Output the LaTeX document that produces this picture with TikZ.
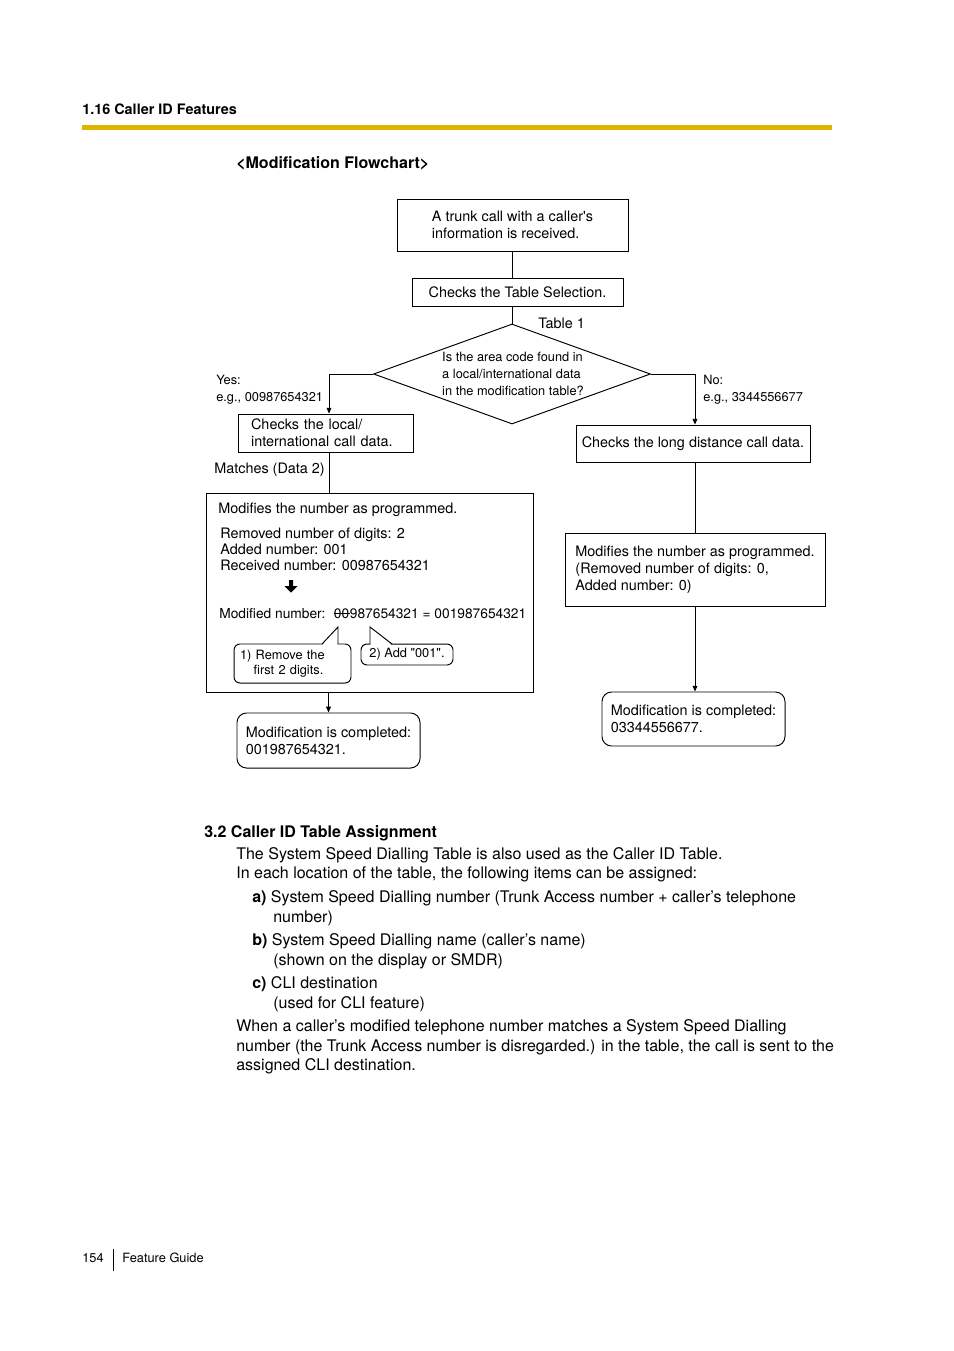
\documentclass[tikz,border=0pt]{standalone}
\usepackage{fontspec}
\setmainfont{TeX Gyre Heros}
\usetikzlibrary{shapes.geometric, arrows.meta, positioning, fit, calc}
\definecolor{rulegold}{RGB}{224,181,0}
\tikzset{
    flowbox/.style={rectangle, draw, line width=0.6pt, inner sep=0pt, align=left, font=\fontsize{9}{10.6}\selectfont},
    endbox/.style={flowbox, rounded corners=6pt},
    notebox/.style={rectangle, draw, line width=0.6pt, rounded corners=3.75pt, fill=white, inner xsep=3.75pt, inner ysep=0pt, font=\fontsize{8}{9.4}\selectfont},
    flowtext/.style={anchor=base west, inner sep=0pt, font=\fontsize{9}{10.6}\selectfont},
    smalltext/.style={anchor=base west, inner sep=0pt, font=\fontsize{8}{10.6}\selectfont},
    bodytext/.style={anchor=base west, inner sep=0pt, font=\fontsize{10}{12}\selectfont},
    headtext/.style={anchor=base west, inner sep=0pt, font=\fontsize{9}{11}\selectfont\bfseries},
}

\begin{document}
\begin{tikzpicture}[
    x=0.625pt, y=-0.625pt,
    arrow/.style={-{Triangle[length=3.6pt, width=3pt]}, line width=0.6pt},
    arrowline/.style={line width=0.6pt}
]
\useasboundingbox (0,0) rectangle (954,1351);

% page header
\node[headtext] (chapter) at (82,114) {1.16 Caller ID Features};
\fill[rulegold] (82,125) rectangle (832,130);
\node[headtext, font=\fontsize{10}{12}\selectfont\bfseries] (charttitle) at (236,168) {\textless Modification Flowchart\textgreater};

% flowchart
\node[flowbox, minimum width=144.4pt, minimum height=32.5pt] (trunk) at (512.5,225) {A trunk call with a caller\textquotesingle s\\information is received.};
\node[flowbox, minimum width=131.9pt, minimum height=17.5pt] (tablesel) at (517.5,292) {Checks the Table Selection.};
\node[diamond, draw, line width=0.6pt, minimum width=173.1pt, minimum height=62.5pt, inner sep=0pt] (decide) at (512,374) {};
\node[inner sep=0pt, align=left, font=\fontsize{8}{10.6}\selectfont] (question) at (513,374) {Is the area code found in\\a local/international data\\in the modification table?};
\node[flowtext] (tablelbl) at (538,328) {Table 1};

\node[smalltext] (yeslbl) at (216,384) {Yes:};
\node[smalltext] (yesex) at (216,401) {e.g., 00987654321};
\node[smalltext] (nolbl) at (703,384) {No:};
\node[smalltext] (noex) at (703,401) {e.g., 3344556677};

\node[flowbox, minimum width=109.4pt, minimum height=23.75pt, text width=93pt] (localchk) at (325.5,433) {Checks the local/\\international call data.};
\node[flowtext] (matchlbl) at (214,473) {Matches (Data 2)};

\node[flowbox, minimum width=204.4pt, minimum height=124.4pt] (modleft) at (369.5,592.5) {};
\node[flowtext] (modhead) at (218,513) {Modifies the number as programmed.};
\node[flowtext] (rmdigits) at (220,538) {Removed number of digits: 2};
\node[flowtext] (addnum) at (220,554) {Added number: 001};
\node[flowtext] (recvnum) at (220,570) {Received number: 00987654321};
\fill (289,580) -- (293,580) -- (293,586) -- (297.5,586) -- (291,592.5) -- (284.5,586) -- (289,586) -- cycle;
\node[flowtext, font=\fontsize{8.6}{10.6}\selectfont] (modlabel) at (219,618) {Modified number:};
\node[flowtext, font=\fontsize{8.6}{10.6}\selectfont] (strike) at ([xshift=5pt]modlabel.base east) {00};
\node[flowtext, font=\fontsize{8.6}{10.6}\selectfont] (modrest) at (strike.base east) {987654321 = 001987654321};
\draw[line width=0.5pt] (strike.west) -- (strike.east);

\node[notebox, minimum width=73.1pt, minimum height=24.4pt, text width=65.6pt, align=left] (remove) at (292.5,663.5) {1) Remove the\\\hspace*{8.5pt}first 2 digits.};
\node[notebox, minimum width=57.5pt, minimum height=13.1pt, align=center] (addnote) at (407,654.5) {2) Add \textquotedbl 001\textquotedbl.};
\coordinate (tipremove) at (338,627);
\coordinate (tipadd) at (370,627);
\fill[white] (322.5,645) -- (tipremove) -- (337.5,645) -- cycle;
\draw[arrowline] (322,644) -- (tipremove) -- (338,644);
\fill[white] (370.5,645) -- (tipadd) -- (391.5,645) -- cycle;
\draw[arrowline] (370,644) -- (tipadd) -- (392,644);

\node[endbox, minimum width=114.4pt, minimum height=34.4pt] (doneleft) at (328.5,740.5) {Modification is completed:\\001987654321.};

\node[flowbox, minimum width=146.25pt, minimum height=23.1pt] (longchk) at (693,443.5) {Checks the long distance call data.};
\node[flowbox, minimum width=162.5pt, minimum height=45.6pt] (modright) at (695,569.5) {Modifies the number as programmed.\\(Removed number of digits: 0,\\Added number: 0)};
\node[endbox, minimum width=114.4pt, minimum height=33.75pt] (doneright) at (693.5,719) {Modification is completed:\\03344556677.};

\coordinate (yesdrop) at ($(localchk.north)+(3.5,0)$);

\draw[arrowline] (trunk.south -| decide.north) -- (tablesel.north -| decide.north);
\draw[arrowline] (tablesel.south -| decide.north) -- (decide.north);
\draw[arrow] (decide.west) -| (yesdrop);
\draw[arrowline] (yesdrop |- localchk.south) -- (yesdrop |- modleft.north);
\draw[arrow] (modleft.south -| doneleft.north) -- (doneleft.north);
\draw[arrow] (decide.east) -| (longchk.north -| modright.north);
\draw[arrowline] (longchk.south -| modright.north) -- (modright.north);
\draw[arrow] (modright.south) -- (modright.south |- doneright.north);

% section text
\node[headtext, font=\fontsize{10}{12}\selectfont\bfseries] (sectitle) at (204,837) {3.2 Caller ID Table Assignment};
\node[bodytext] (para1) at (236,859) {The System Speed Dialling Table is also used as the Caller ID Table.};
\node[bodytext] (para2) at (236,878) {In each location of the table, the following items can be assigned:};
\node[bodytext] (itema) at (252,902) {\textbf{a)} System Speed Dialling number (Trunk Access number + caller’s telephone};
\node[bodytext] (itema2) at (273,922) {number)};
\node[bodytext] (itemb) at (252,945) {\textbf{b)} System Speed Dialling name (caller’s name)};
\node[bodytext] (itemb2) at (273,965) {(shown on the display or SMDR)};
\node[bodytext] (itemc) at (252,988) {\textbf{c)} CLI destination};
\node[bodytext] (itemc2) at (273,1008) {(used for CLI feature)};
\node[bodytext] (para3) at (236,1031) {When a caller’s modified telephone number matches a System Speed Dialling};
\node[bodytext] (para4) at (236,1051) {number (the Trunk Access number is disregarded.) in the table, the call is sent to the};
\node[bodytext] (para5) at (236,1070) {assigned CLI destination.};

% footer
\node[smalltext] (pagenum) at (82,1262) {154};
\draw[arrowline] (113,1249) -- (113,1271);
\node[smalltext] (guide) at (122,1262) {Feature Guide};
\end{tikzpicture}
\end{document}
